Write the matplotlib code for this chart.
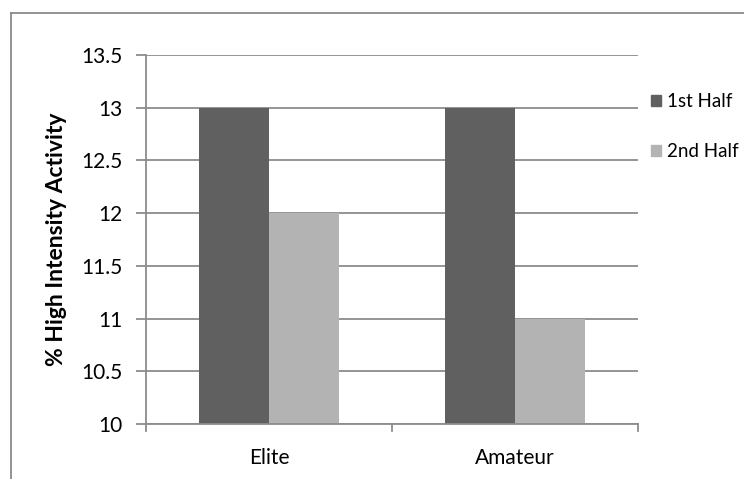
import matplotlib
matplotlib.use("Agg")
import matplotlib.pyplot as plt
import numpy as np
from matplotlib.lines import Line2D
from matplotlib.patches import Patch

categories = ["Elite", "Amateur"]
series_names = ["1st Half", "2nd Half"]
first_half = [13, 13]
second_half = [12, 11]
y_ticks = [10, 10.5, 11, 11.5, 12, 12.5, 13, 13.5]
y_tick_labels = ["10", "10.5", "11", "11.5", "12", "12.5", "13", "13.5"]

DARK = "#606060"
LIGHT = "#b3b3b3"
GRID = "#8c8c8c"
FONT = ["Lato", "DejaVu Sans"]

W, H = 744, 479
fig = plt.figure(figsize=(W / 100, H / 100), dpi=100)
fig.patch.set_facecolor("white")

# outer chart frame (top and left edges visible)
fig.add_artist(Line2D([11 / W, 1.0], [1 - 12.5 / H, 1 - 12.5 / H], color="#8a8a8a", lw=1.3,
                      transform=fig.transFigure))
fig.add_artist(Line2D([11 / W, 11 / W], [0.0, 1 - 12.5 / H], color="#8a8a8a", lw=1.3,
                      transform=fig.transFigure))

left, right, top, bottom = 146, 638, 55, 424
ax = fig.add_axes([left / W, 1 - bottom / H, (right - left) / W, (bottom - top) / H])

x = np.arange(len(categories)) + 0.5
bw = 1 / 3.5
ax.bar(x - bw / 2, first_half, width=bw, color=DARK, zorder=3, label=series_names[0])
ax.bar(x + bw / 2, second_half, width=bw, color=LIGHT, zorder=3, label=series_names[1])

ax.set_xlim(0, len(categories))
ax.set_ylim(10, 13.5)
ax.set_yticks(y_ticks)
ax.set_yticklabels(y_tick_labels, family=FONT, fontsize=15)
ax.set_xticks(x)
ax.set_xticklabels(categories, family=FONT, fontsize=15)
ax.tick_params(axis="x", length=0, pad=17)
ax.tick_params(axis="y", length=7, width=1.3, color=GRID, pad=10)

# category boundary tick marks on the x axis
for xb in range(len(categories) + 1):
    ax.plot([xb, xb], [10, 10 - 0.5 * 7 / 52.7], color=GRID, lw=1.3, clip_on=False, zorder=4)

ax.yaxis.grid(True, color=GRID, lw=1.3, zorder=0)
for s in ["top", "right"]:
    ax.spines[s].set_visible(False)
for s in ["left", "bottom"]:
    ax.spines[s].set_color(GRID)
    ax.spines[s].set_linewidth(1.3)
    ax.spines[s].set_zorder(4)

ax.set_ylabel("% High Intensity Activity", family=FONT, fontsize=16.5, fontweight="bold", labelpad=10)

handles = [Patch(color=DARK), Patch(color=LIGHT)]
fig.legend(handles, series_names, loc="upper left", bbox_to_anchor=(651 / W, 1 - 93 / H),
           frameon=False, prop={"family": FONT, "size": 13.5}, handlelength=0.55, handleheight=0.55,
           handletextpad=0.3, labelspacing=1.75, borderpad=0, borderaxespad=0)

fig.savefig("out.png", dpi=100, facecolor="white")
